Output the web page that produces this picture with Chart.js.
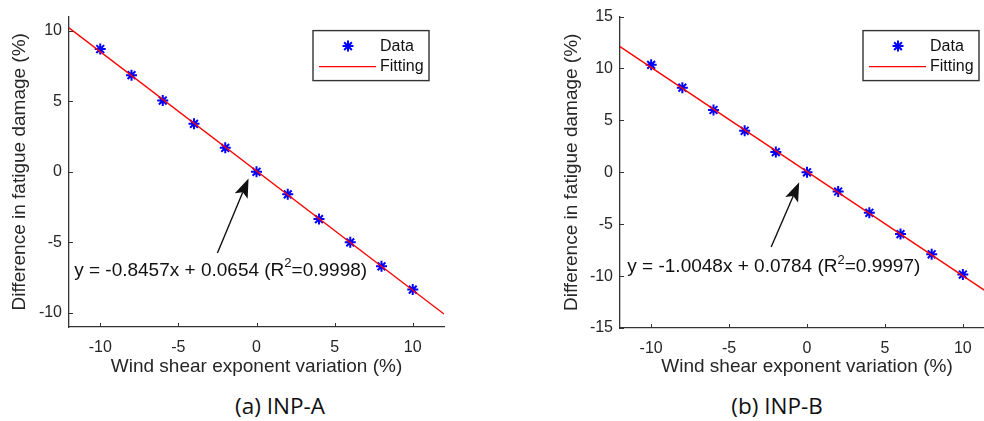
<!DOCTYPE html>
<html>
<head>
<meta charset="utf-8">
<script src="https://cdn.jsdelivr.net/npm/chart.js@4.4.1/dist/chart.umd.min.js"></script>
<style>
  html, body { margin: 0; padding: 0; background: #fff; }
  body { width: 984px; height: 421px; overflow: hidden; position: relative; }
  canvas { position: absolute; top: 0; }
  #chartA { left: 0; }
  #chartB { left: 540px; }
  .caption {
    position: absolute; top: 391px; line-height: 30px;
    font-family: "Open Sans", sans-serif; font-size: 22.5px; color: #111;
    transform: translateX(-50%); white-space: nowrap;
  }
</style>
</head>
<body>
<canvas id="chartA" width="470" height="385"></canvas>
<canvas id="chartB" width="484" height="385"></canvas>
<div class="caption" style="left:280px">(a) INP-A</div>
<div class="caption" style="left:777px">(b) INP-B</div>

<script>
// values
var shearVariation = [-10, -8, -6, -4, -2, 0, 2, 4, 6, 8, 10];
var damageA = [8.7, 6.85, 5.05, 3.4, 1.7, 0, -1.6, -3.35, -5.0, -6.7, -8.35];
var damageB = [10.35, 8.15, 6.0, 4.0, 1.95, 0, -1.85, -3.9, -5.95, -7.9, -9.85];
var fitEnds = [-12, 12];
var fitA = [10.21, -10.08];
var fitB = [12.1, -11.98];
var xTicks = [-10, -5, 0, 5, 10];
var yTicksA = [-10, -5, 0, 5, 10];
var yTicksB = [-15, -10, -5, 0, 5, 10, 15];

var axisColor = "#333333";
var textColor = "#262626";
var fontFamily = "'Liberation Sans', Arial, sans-serif";

function points(xs, ys) {
  return xs.map(function (x, i) {
    return { x: x, y: ys[i] };
  });
}

function star(ctx, x, y, r) {
  var d = r * Math.SQRT1_2;
  ctx.beginPath();
  ctx.moveTo(x - r, y); ctx.lineTo(x + r, y);
  ctx.moveTo(x, y - r); ctx.lineTo(x, y + r);
  ctx.moveTo(x - d, y - d); ctx.lineTo(x + d, y + d);
  ctx.moveTo(x - d, y + d); ctx.lineTo(x + d, y - d);
  ctx.stroke();
}

// inward ticks, legend box and the fit annotation, MATLAB style
var matlabLook = {
  id: "matlabLook",
  afterDatasetsDraw: function (chart, args, opts) {
    var ctx = chart.ctx, area = chart.chartArea;
    var xs = chart.scales.x, ys = chart.scales.y;
    ctx.save();

    ctx.strokeStyle = axisColor;
    ctx.lineWidth = 1;
    xs.ticks.forEach(function (t) {
      var px = Math.round(xs.getPixelForValue(t.value)) + 0.5;
      ctx.beginPath();
      ctx.moveTo(px, area.bottom);
      ctx.lineTo(px, area.bottom - 4);
      ctx.stroke();
    });
    ys.ticks.forEach(function (t) {
      var py = Math.round(ys.getPixelForValue(t.value)) + 0.5;
      ctx.beginPath();
      ctx.moveTo(area.left, py);
      ctx.lineTo(area.left + 4, py);
      ctx.stroke();
    });

    // annotation
    var n = opts.note;
    var tx = xs.getPixelForValue(n.at[0]), ty = ys.getPixelForValue(n.at[1]);
    ctx.fillStyle = "#111";
    ctx.textBaseline = "middle";
    ctx.textAlign = "left";
    ctx.font = "19px " + fontFamily;
    ctx.fillText(n.before, tx, ty);
    var w = ctx.measureText(n.before).width;
    ctx.font = "13px " + fontFamily;
    ctx.fillText(n.sup, tx + w, ty - 7);
    w += ctx.measureText(n.sup).width;
    ctx.font = "19px " + fontFamily;
    ctx.fillText(n.after, tx + w, ty);

    var x1 = xs.getPixelForValue(n.from[0]), y1 = ys.getPixelForValue(n.from[1]);
    var x2 = xs.getPixelForValue(n.to[0]), y2 = ys.getPixelForValue(n.to[1]);
    var ang = Math.atan2(y2 - y1, x2 - x1);
    var L = 19, W = 7, back = 15;
    ctx.strokeStyle = "#111";
    ctx.lineWidth = 1.4;
    ctx.beginPath();
    ctx.moveTo(x1, y1);
    ctx.lineTo(x2 - back * Math.cos(ang), y2 - back * Math.sin(ang));
    ctx.stroke();
    ctx.save();
    ctx.translate(x2, y2);
    ctx.rotate(ang);
    ctx.beginPath();
    ctx.moveTo(0, 0);
    ctx.lineTo(-L, -W);
    ctx.lineTo(-back, 0);
    ctx.lineTo(-L, W);
    ctx.closePath();
    ctx.fill();
    ctx.restore();

    // legend
    var bx = area.right - 131, by = area.top + 14;
    ctx.fillStyle = "#fff";
    ctx.fillRect(bx, by, 116, 50);
    ctx.strokeStyle = axisColor;
    ctx.lineWidth = 1.4;
    ctx.strokeRect(bx, by, 116, 50);
    ctx.strokeStyle = "#0000ff";
    ctx.lineWidth = 2;
    star(ctx, bx + 35, by + 15.5, 5.5);
    ctx.strokeStyle = "#ff0000";
    ctx.lineWidth = 1.3;
    ctx.beginPath();
    ctx.moveTo(bx + 6, by + 36);
    ctx.lineTo(bx + 63, by + 36);
    ctx.stroke();
    ctx.fillStyle = "#111";
    ctx.font = "16px " + fontFamily;
    ctx.fillText("Data", bx + 67, by + 15.5);
    ctx.fillText("Fitting", bx + 67, by + 36);

    ctx.restore();
  }
};

function makeChart(id, values, fitValues, yMin, yMax, yTicks, box, note) {
  return new Chart(document.getElementById(id), {
    type: "scatter",
    data: {
      datasets: [
        {
          label: "Data",
          data: points(shearVariation, values),
          pointStyle: "star",
          pointRadius: 5.5,
          pointBorderWidth: 2,
          borderColor: "#0000ff",
          backgroundColor: "#0000ff",
          order: 1
        },
        {
          label: "Fitting",
          type: "line",
          data: points(fitEnds, fitValues),
          showLine: true,
          borderColor: "#ff0000",
          borderWidth: 1.4,
          pointRadius: 0,
          fill: false,
          order: 0
        }
      ]
    },
    options: {
      responsive: false,
      animation: false,
      devicePixelRatio: 1,
      layout: { padding: box.padding },
      plugins: {
        legend: { display: false },
        tooltip: { enabled: false },
        matlabLook: { note: note }
      },
      scales: {
        x: {
          type: "linear",
          min: -12,
          max: 12,
          afterBuildTicks: function (s) {
            s.ticks = xTicks.map(function (v) { return { value: v }; });
          },
          afterFit: function (s) { s.height = box.xHeight; },
          grid: { display: false, drawTicks: false },
          border: { display: true, color: axisColor, width: 1.3 },
          ticks: { color: textColor, font: { family: fontFamily, size: 16 }, padding: 11, maxRotation: 0 },
          title: {
            display: true,
            text: "Wind shear exponent variation (%)",
            color: textColor,
            font: { family: fontFamily, size: 19 },
            padding: { top: 0, bottom: 6.6 }
          }
        },
        y: {
          min: yMin,
          max: yMax,
          afterBuildTicks: function (s) {
            s.ticks = yTicks.map(function (v) { return { value: v }; });
          },
          afterFit: function (s) { s.width = box.yWidth; },
          grid: { display: false, drawTicks: false },
          border: { display: true, color: axisColor, width: 1.3 },
          ticks: { color: textColor, font: { family: fontFamily, size: 16 }, padding: 7 },
          title: {
            display: true,
            text: "Difference in fatigue damage (%)",
            color: textColor,
            font: { family: fontFamily, size: 19 },
            padding: { top: box.yTitlePad, bottom: 0 }
          }
        }
      }
    },
    plugins: [matlabLook]
  });
}

makeChart("chartA", damageA, fitA, -11, 11, yTicksA,
  { padding: { left: 0, right: 26, top: 13, bottom: 0 }, xHeight: 58, yWidth: 69, yTitlePad: 8.6 },
  { before: "y = -0.8457x + 0.0654 (R", sup: "2", after: "=0.9998)", at: [-11.67, -7.0], from: [-2.5, -5.75], to: [-0.51, -0.47] });

makeChart("chartB", damageB, fitB, -15, 15, yTicksB,
  { padding: { left: 0, right: 30, top: 15.7, bottom: 0 }, xHeight: 57, yWidth: 80, yTitlePad: 20.6 },
  { before: "y = -1.0048x + 0.0784 (R", sup: "2", after: "=0.9997)", at: [-11.53, -9.12], from: [-2.3, -7.2], to: [-0.5, -0.96] });
</script>
</body>
</html>
